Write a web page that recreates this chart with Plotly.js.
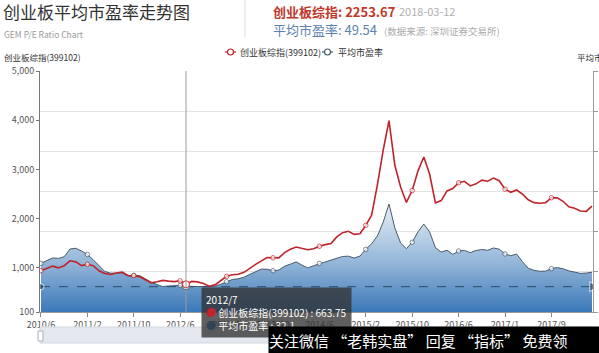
<!DOCTYPE html>
<html><head><meta charset="utf-8">
<script src="https://cdn.plot.ly/plotly-3.0.1.min.js"></script>
<style>html,body{margin:0;padding:0;background:#fff;}#chart{width:599px;height:353px;}</style>
</head><body><div id="chart"></div>
<script>
const tickLabels = ['2010/6','2011/2','2011/10','2012/6','2013/2','2013/10','2014/6','2015/2','2015/10','2016/6','2017/1','2017/9'];
const gemIndex = [940,984,1033,997,1041,1141,1119,1043,1070,1043,
 938,881,864,893,913,842,838,820,757,692,
 714,742,728,718,734,663.75,722,712,679,625,
 651,740,826,858,866,907,992,1068,1139,1206,
 1202,1200,1308,1375,1421,1389,1365,1385,1436,1470,
 1491,1627,1712,1741,1678,1692,1863,2068,2686,3393,
 3989,3089,2643,2328,2570,2969,3251,2906,2316,2365,
 2562,2609,2727,2757,2664,2706,2782,2759,2822,2769,
 2597,2534,2580,2495,2381,2324,2310,2322,2424,2420,
 2351,2239,2210,2153,2145,2253.67];
const peRatio = [60.6,63.7,67.3,66.7,68.8,78.4,79.3,75.9,71.6,65.0,
 57.8,50.5,48.4,48.7,48.5,44.6,45.6,45.3,41.2,37.2,
 34.1,31.7,32.4,33.2,33.1,32.1,31.5,31.6,31.8,31.6,
 32.1,34.6,37.7,40.5,41.3,43.3,46.9,50.3,53.4,53.2,
 51.3,52.2,57.0,59.6,62.4,58.3,54.9,57.6,60.4,62.2,
 64.6,67.3,69.1,69.5,67.2,69.6,78.0,84.9,94.7,111.8,
 134.4,104.7,85.9,78.8,86.8,99.8,109.5,99.6,80.2,74.6,
 76.8,71.7,75.9,76.7,73.9,76.6,77.8,76.8,79.7,78.2,
 72.2,70.0,72.2,62.7,54.5,51.8,50.7,50.9,53.9,55.3,
 53.8,51.2,49.5,48.1,48.5,49.54];
const leftTicks = [100,1000,2000,3000,4000,5000];
const seriesNames = ['创业板综指(399102)','平均市盈率'];
const hoverIndex = 25;
const hoverLabel = '2012/7';
const latestDate = '2018-03-12';

const n = gemIndex.length;
const idx = gemIndex.map((_, i) => i);
const tickStep = 8;
const tickVals = tickLabels.map((_, k) => k * tickStep);
const peMin = Math.min(...peRatio);
const peMax = Math.max(...peRatio);

const W = 599, H = 353, L = 40, R = 6, T = 71, B = 41;
const PW = W - L - R, PH = H - T - B;
const px = x => (x - L) / PW;
const py = y => (H - B - y) / PH;

const RED = '#c1232b', DARK = '#4a5b6b', MARK = '#2b4a68';
const FONT = '"Noto Sans CJK SC", "Noto Sans", sans-serif';
const markerSizes = idx.map(i => (i % tickStep === 0 ? 4.5 : 0));

const traces = [
  { x: idx, y: peRatio, yaxis: 'y', type: 'scatter', mode: 'lines+markers',
    line: { color: DARK, width: 1 }, fill: 'tozeroy',
    fillgradient: { type: 'vertical', start: 0, stop: peMax,
      colorscale: [[0, '#3b78b8'], [0.45, '#92b5d8'], [1, '#e8eff7']] },
    marker: { size: markerSizes, color: '#fff', line: { color: DARK, width: 1 } },
    showlegend: false, hoverinfo: 'skip' },
  { x: [0, n - 1], y: [peMin, peMin], yaxis: 'y', type: 'scatter', mode: 'lines+markers',
    line: { color: MARK, width: 1, dash: 'dash' },
    marker: { symbol: ['circle', 'triangle-right'], size: [6, 9], color: MARK },
    showlegend: false, hoverinfo: 'skip' },
  { x: idx, y: gemIndex, yaxis: 'y2', type: 'scatter', mode: 'lines+markers',
    line: { color: RED, width: 1.6 },
    marker: { size: markerSizes, color: '#fff', line: { color: RED, width: 1 } },
    showlegend: false, hoverinfo: 'skip' },
  { x: [hoverIndex], y: [peRatio[hoverIndex]], yaxis: 'y', type: 'scatter', mode: 'markers',
    marker: { size: 7, color: '#fff', line: { color: DARK, width: 1 } }, showlegend: false, hoverinfo: 'skip' },
  { x: [hoverIndex], y: [gemIndex[hoverIndex]], yaxis: 'y2', type: 'scatter', mode: 'markers',
    marker: { size: 7, color: '#fff', line: { color: RED, width: 1 } }, showlegend: false, hoverinfo: 'skip' }
];

const shapes = [
  { type: 'line', xref: 'paper', yref: 'paper', x0: px(245), x1: px(245), y0: py(0), y1: py(37), line: { color: '#dddddd', width: 1 } },
  { type: 'line', xref: 'x', yref: 'paper', x0: hoverIndex, x1: hoverIndex, y0: 0, y1: 1, line: { color: '#9a9a9a', width: 1 } },
  { type: 'rect', xref: 'paper', yref: 'paper', x0: px(40), x1: px(593), y0: py(327), y1: py(343), fillcolor: '#e4e8ee', line: { color: '#d3d8e0', width: 1 } },
  { type: 'rect', xref: 'paper', yref: 'paper', x0: px(38), x1: px(43), y0: py(331), y1: py(341), fillcolor: '#ffffff', line: { color: '#a8b0ba', width: 1 } }
];

const legendPos = [{ icon: 225, text: 238, color: RED }, { icon: 322, text: 336, color: DARK }];
const annotations = [];
legendPos.forEach((p, k) => {
  shapes.push({ type: 'line', xref: 'paper', yref: 'paper', x0: px(p.icon), x1: px(p.icon + 11), y0: py(52), y1: py(52), line: { color: p.color, width: 1.2 } });
  shapes.push({ type: 'circle', xref: 'paper', yref: 'paper', x0: px(p.icon + 2.5), x1: px(p.icon + 8.5), y0: py(49), y1: py(55), fillcolor: '#fff', line: { color: p.color, width: 1.2 } });
  annotations.push({ xref: 'paper', yref: 'paper', x: px(p.text), y: py(52), xanchor: 'left', yanchor: 'middle', showarrow: false,
    text: seriesNames[k], font: { family: FONT, size: 9, color: '#333' } });
});

const ann = (x, y, text, size, color, extra) => Object.assign({ xref: 'paper', yref: 'paper', x: px(x), y: py(y), xanchor: 'left', yanchor: 'middle', showarrow: false, text: text, font: { family: FONT, size: size, color: color } }, extra || {});

annotations.push(
  ann(1, 12, '创业板平均市盈率走势图', 17, '#333'),
  ann(2, 34, 'GEM P/E Ratio Chart', 8.5, '#9a9a9a'),
  ann(271, 11, '<b>创业板综指: ' + gemIndex[n - 1].toFixed(2) + '</b>', 13, '#c0392b'),
  ann(397, 11, latestDate, 11, '#b0b0b0'),
  ann(271, 30, '平均市盈率: ' + peRatio[n - 1].toFixed(2), 13, '#5d82ad'),
  ann(382, 31, '(数据来源: 深圳证券交易所)', 9.5, '#aaaaaa'),
  ann(2, 57, seriesNames[0], 8.5, '#333'),
  ann(575, 57, seriesNames[1], 8.5, '#333'),
  Object.assign(ann(201, 287,
    hoverLabel + '<br><span style="color:' + RED + '">●</span> ' + seriesNames[0] + ' : ' + gemIndex[hoverIndex] +
    '<br><span style="color:#2f4554">●</span> ' + seriesNames[1] + ' : ' + peRatio[hoverIndex], 10, '#ffffff'),
    { yanchor: 'top', align: 'left', bgcolor: 'rgba(50,50,50,0.78)', borderpad: 4 }),
  Object.assign(ann(268, 326, '关注微信 “老韩实盘” 回复 “指标” 免费领', 15, '#ffffff'),
    { yanchor: 'top', align: 'left', bgcolor: '#000000', width: 331, height: 27, borderpad: 0 })
);

const layout = {
  width: W, height: H,
  margin: { l: L, r: R, t: T, b: B },
  paper_bgcolor: '#ffffff', plot_bgcolor: '#ffffff',
  font: { family: FONT, size: 9, color: '#555' },
  showlegend: false,
  xaxis: { range: [-0.17, 95.17], tickvals: tickVals, ticktext: tickLabels, ticks: 'outside', ticklen: 4,
    tickcolor: '#888', showline: true, linecolor: '#999', showgrid: false, zeroline: false,
    tickfont: { family: FONT, size: 9, color: '#555' } },
  yaxis: { side: 'right', range: [0, 300], dtick: 50, showgrid: true, gridcolor: '#e4e4e4',
    showline: true, linecolor: '#999', ticks: 'outside', ticklen: 4, tickcolor: '#999',
    showticklabels: false, zeroline: false },
  yaxis2: { overlaying: 'y', side: 'left', range: [100, 5000], tickvals: leftTicks, tickformat: ',',
    showgrid: false, showline: true, linecolor: '#777', ticks: 'outside', ticklen: 3, tickcolor: '#777',
    zeroline: false, tickfont: { family: FONT, size: 9, color: '#555' } },
  shapes: shapes,
  annotations: annotations
};

Plotly.newPlot('chart', traces, layout, { displayModeBar: false, staticPlot: true });
</script>
</body></html>
